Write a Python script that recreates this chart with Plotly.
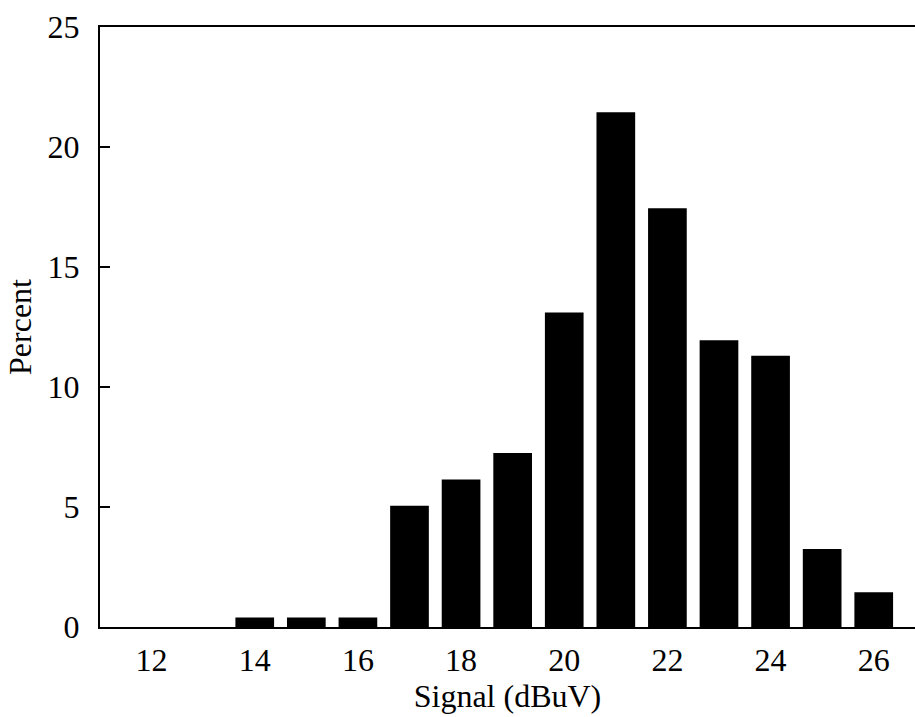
import plotly.graph_objects as go

signal = [12, 13, 14, 15, 16, 17, 18, 19, 20, 21, 22, 23, 24, 25, 26]
percent = [0, 0, 0.4, 0.4, 0.4, 5.05, 6.15, 7.25, 13.1, 21.45, 17.45, 11.95, 11.3, 3.25, 1.45]
x_ticks = [12, 14, 16, 18, 20, 22, 24, 26]
y_ticks = [0, 5, 10, 15, 20, 25]

font = dict(family="Liberation Serif, Times New Roman, serif", size=32, color="black")

fig = go.Figure(go.Bar(x=signal, y=percent, width=0.75,
                       marker=dict(color="black", line=dict(width=0))))

fig.update_layout(
    width=915, height=717,
    margin=dict(l=100, r=0, t=27, b=90),
    paper_bgcolor="white", plot_bgcolor="white",
    font=font, showlegend=False,
    xaxis=dict(range=[11, 26.8], tickvals=x_ticks, ticks="", showgrid=False,
               zeroline=False, showline=True, linecolor="black", linewidth=2,
               mirror=True, ticklabelstandoff=4,
               title=dict(text="Signal (dBuV)", font=font, standoff=0)),
    yaxis=dict(range=[0, 25], tickvals=y_ticks, ticks="inside", ticklen=10,
               tickwidth=2, tickcolor="black", showgrid=False, zeroline=False,
               showline=True, linecolor="black", linewidth=2, ticklabelstandoff=12,
               title=dict(text="Percent", font=font, standoff=6)),
)

fig.write_html("out.html")
